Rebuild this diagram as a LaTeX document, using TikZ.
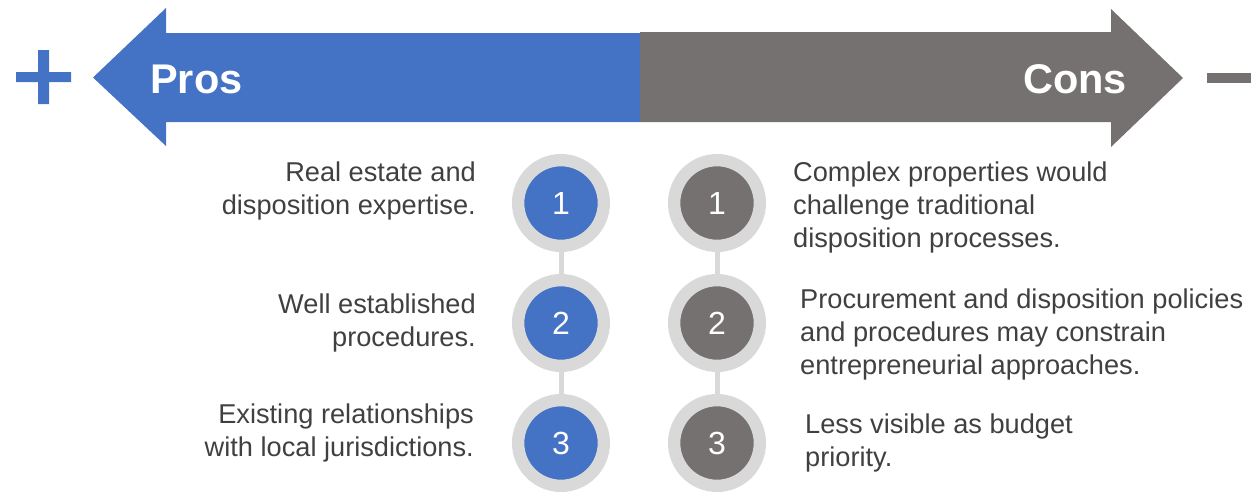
\documentclass[tikz,border=0pt]{standalone}
\usepackage{fontspec}
\setmainfont{Liberation Sans}
\definecolor{problue}{HTML}{4472C4}
\definecolor{congray}{HTML}{767171}
\definecolor{ringgray}{HTML}{D9D9D9}
\definecolor{txtgray}{HTML}{404040}
\tikzset{
	ballpro/.style={circle, fill=problue, draw=ringgray, line width=12.3pt, minimum size=85.7pt, inner sep=0pt, text=white, font=\fontsize{32}{36}\selectfont},
	ballcon/.style={ballpro, fill=congray},
	link/.style={ringgray, line width=5pt},
	note/.style={text=txtgray, font=\fontsize{27.2}{33}\selectfont, inner sep=0pt},
	head/.style={text=white, font=\fontsize{41.5}{45}\selectfont\bfseries, inner sep=0pt}
}

\begin{document}
\begin{tikzpicture}[x=1pt, y=-1pt]
\useasboundingbox (0,0) rectangle (1251,491);
% arrows
\fill[problue] (640,33) -- (166,33) -- (166,8) -- (93,77.5) -- (166,146) -- (166,122) -- (640,122) -- cycle;
\fill[congray] (640,32) -- (1111,32) -- (1111,9) -- (1183,78) -- (1111,147) -- (1111,122) -- (640,122) -- cycle;
\node[head, anchor=base west] (pros) at (150,93) {Pros};
\node[head, anchor=base east] (cons) at (1127,93) {Cons};
% plus and minus
\fill[problue] (16,72) rectangle (71,82) (38,50) rectangle (49,104);
\fill[congray] (1207,73) rectangle (1251,83);
% numbered circles
\foreach \n/\y in {1/203, 2/323, 3/443} {
	\node[ballpro] (p\n) at (561,\y) {\n};
	\node[ballcon] (c\n) at (717,\y) {\n};
	};
\foreach \a/\b in {1/2, 2/3} {
	\draw[link] (p\a) -- (p\b);
	\draw[link] (c\a) -- (c\b);
	};
% texts
\node[note, align=right, anchor=east] (tp1) at (476,191) {Real estate and\\disposition expertise.};
\node[note, align=right, anchor=east] (tp2) at (476,323) {Well established\\procedures.};
\node[note, align=right, anchor=east] (tp3) at (474,433) {Existing relationships\\with local jurisdictions.};
\node[note, align=left, anchor=west] (tc1) at (793,207) {Complex properties would\\challenge traditional\\disposition processes.};
\node[note, align=left, anchor=west] (tc2) at (800,334) {Procurement and disposition policies\\and procedures may constrain\\entrepreneurial approaches.};
\node[note, align=left, anchor=west] (tc3) at (805,443) {Less visible as budget\\priority.};
\end{tikzpicture}
\end{document}
